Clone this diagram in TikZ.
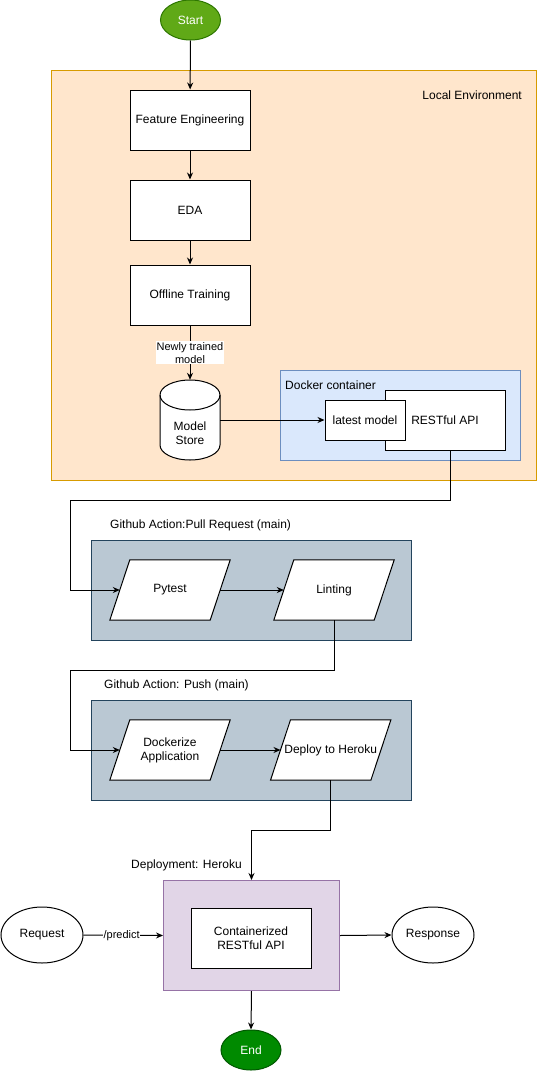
\documentclass[tikz,border=0pt]{standalone}
\usepackage{fontspec}
\setmainfont{Liberation Sans}
\usetikzlibrary{arrows.meta,shapes.geometric,calc}
\definecolor{startF}{HTML}{60A917}
\definecolor{startD}{HTML}{2D7600}
\definecolor{endF}{HTML}{008A00}
\definecolor{endD}{HTML}{005700}
\definecolor{orF}{HTML}{FFE6CC}
\definecolor{orD}{HTML}{D79B00}
\definecolor{blF}{HTML}{DAE8FC}
\definecolor{blD}{HTML}{6C8EBF}
\definecolor{gbF}{HTML}{BAC8D3}
\definecolor{gbD}{HTML}{23445D}
\definecolor{puF}{HTML}{E1D5E7}
\definecolor{puD}{HTML}{9673A6}
\tikzset{
  term/.style={ellipse, minimum width=60pt, minimum height=40pt, inner sep=0pt, text=white, line width=1pt},
  procbox/.style={draw, fill=white, minimum width=120pt, minimum height=60pt, inner sep=0pt, align=center, line width=1pt},
  group/.style={anchor=north west, inner sep=0pt, line width=1pt},
  paranode/.style={minimum width=120pt, minimum height=60pt, inner sep=0pt, align=center},
  para/.style={draw, fill=white, line width=1pt},
  oval/.style={ellipse, draw, fill=white, minimum width=82pt, minimum height=56pt, inner sep=0pt, line width=1pt},
  arr/.style={-{Stealth[length=7pt,width=6pt]}, line width=1pt},
  conn/.style={line width=1pt},
  grouplabel/.style={inner sep=0pt},
}
\begin{document}
\begin{tikzpicture}[x=1pt,y=-1pt, font=\fontsize{12}{14}\selectfont]
\useasboundingbox (0,0) rectangle (541,1071);

% containers
\node[group, draw=orD, fill=orF, minimum width=485pt, minimum height=410pt] (local) at (51,70) {};
\node[grouplabel, anchor=east] (locallbl) at (522,95) {Local Environment};
\node[group, draw=blD, fill=blF, minimum width=240pt, minimum height=90pt] (docker) at (280,370) {};
\node[grouplabel, anchor=west] (dockerlbl) at (285,385) {Docker container};
\node[group, draw=gbD, fill=gbF, minimum width=320pt, minimum height=100pt] (prgrp) at (91,540) {};
\node[grouplabel, anchor=west] (prlbl) at (110,525) {Github Action:Pull Request (main)};
\node[group, draw=gbD, fill=gbF, minimum width=320pt, minimum height=100pt] (pushgrp) at (91,700) {};
\node[grouplabel, anchor=west] (pushlbl) at (104,685) {Github Action: Push (main)};
\node[group, draw=puD, fill=puF, minimum width=176pt, minimum height=110pt] (heroku) at (163,880) {};
\node[grouplabel, anchor=west] (herokulbl) at (131,865) {Deployment: Heroku};

% top flow
\node[term, draw=startD, fill=startF] (start) at (190.5,20) {Start};
\node[procbox] (fe) at (190,120) {Feature Engineering};
\node[procbox] (eda) at (190,210) {EDA};
\node[procbox] (ot) at (190,295) {Offline Training};

% model store cylinder
\node[minimum width=60pt, minimum height=80pt, inner sep=0pt] (store) at (190,420) {};
\draw[fill=white, line width=1pt] (160,395) -- (160,445)
  arc[start angle=180, end angle=360, x radius=30pt, y radius=15pt]
  -- (220,395)
  arc[start angle=0, end angle=180, x radius=30pt, y radius=15pt] -- cycle;
\draw[line width=1pt] (160,395) arc[start angle=180, end angle=360, x radius=30pt, y radius=15pt];
\node[align=center, inner sep=0pt] (storetxt) at (190,433) {Model\\Store};

% docker content
\node[procbox] (api) at (445,420) {RESTful API};
\node[procbox, minimum width=80pt, minimum height=40pt] (lm) at (365,420) {latest model};

% github actions
\node[paranode] (py) at (170,590) {};
\node[paranode] (lint) at (334,590) {};
\node[paranode] (dock) at (170,750) {};
\node[paranode] (dep) at (330.7,750) {};
\foreach \n in {py,lint,dock,dep}{
  \draw[para] (\n.south west) -- ([xshift=20pt]\n.north west) -- (\n.north east) -- ([xshift=-20pt]\n.south east) -- cycle;
  \coordinate (\n L) at ([xshift=10pt]\n.west);
  \coordinate (\n R) at ([xshift=-10pt]\n.east);
}
\node[paranode] (pyt) at (py) {Pytest};
\node[paranode] (lintt) at (lint) {Linting};
\node[paranode] (dockt) at (dock) {Dockerize\\Application};
\node[paranode] (dept) at (dep) {Deploy to Heroku};

% deployment
\node[procbox] (capi) at (251,938) {Containerized\\RESTful API};
\node[oval] (req) at (42,935) {Request};
\node[oval] (resp) at (433,935) {Response};
\node[term, draw=endD, fill=endF] (end) at (251,1050) {End};

% connectors
\draw[arr] (start) -- (fe);
\draw[arr] (fe) -- (eda);
\draw[arr] (eda) -- (ot);
\draw[arr] (ot.south) -- (store.north)
  node[midway, fill=white, inner sep=1pt, align=center, font=\fontsize{11}{13}\selectfont] (nlbl) {Newly trained\\model};
\draw[arr] (store.east) -- (lm.west);
\draw[arr] ([xshift=5pt]api.south) |- (70,500) |- (pyL);
\draw[arr] (pyR) -- (lintL);
\draw[arr] (lint.south) |- (70,670) |- (dockL);
\draw[arr] (dockR) -- (depL);
\draw[arr] (dep.south) -- ++(0,50) -| (heroku.north);
\draw[arr] (req.east) -- (heroku.west)
  node[pos=0.48, fill=white, inner sep=0.5pt, font=\fontsize{11}{13}\selectfont] (predict) {/predict};
\draw[arr] (heroku.east) -- (resp.west);
\draw[arr] (heroku.south) -- (end.north);
\end{tikzpicture}
\end{document}
